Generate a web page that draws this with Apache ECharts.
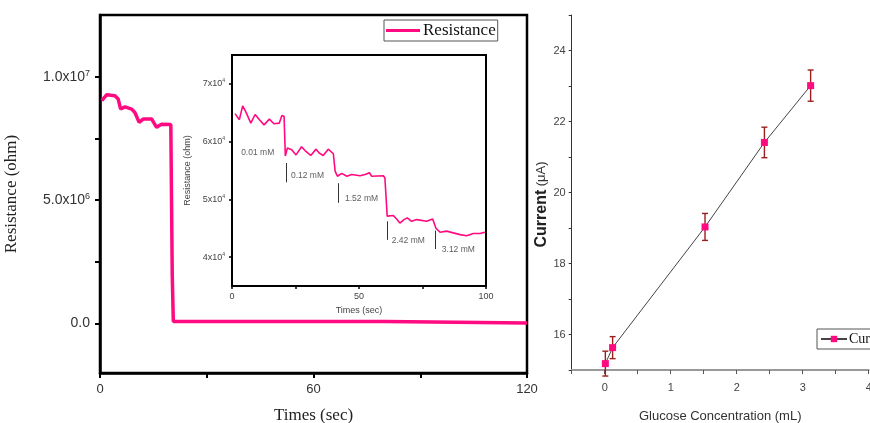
<!DOCTYPE html>
<html><head><meta charset="utf-8">
<script src="https://cdn.jsdelivr.net/npm/echarts@6/dist/echarts.min.js"></script>
<style>html,body{margin:0;padding:0;background:#fff}#c{width:870px;height:423px}</style>
</head><body><div id="c"></div>
<script>
// ---- Main chart (resistance vs time) ----
const mainTime = [0.5, 1.9, 4.2, 5.1, 5.8, 7.0, 8.9, 9.8, 11.0, 12.2, 14.5, 15.9, 17.3, 19.9, 20.2, 20.3, 20.6, 80.0, 80.2, 120];
const mainRes  = [9.03e6, 9.27e6, 9.23e6, 9.1e6, 8.69e6, 8.78e6, 8.69e6, 8.55e6, 8.15e6, 8.29e6, 8.29e6, 7.95e6, 8.08e6, 8.06e6, 8.06e6, 2.0e6, 9e4, 9e4, 3e4, 3e4];
const mainYTicks = [0, 5e6, 1e7];
const mainYTickLabels = [['0.0', ''], ['5.0x10', '6'], ['1.0x10', '7']];

// ---- Inset (zoom of resistance) ----
const insetTime = [1.2, 2.9, 4.2, 5.5, 7.4, 9.1, 10.8, 12.6, 14.7, 16.5, 18.6, 19.6, 20.5, 21.0, 21.8, 23.5, 25.2, 27.4, 29.1, 31.0, 33.1, 34.4, 35.9, 37.9, 39.9, 40.6, 41.5, 43.2, 45.2, 47.1, 50.4, 52.4, 54.1, 55.0, 59.6, 60.2, 61.1, 63.5, 64.8, 66.1, 67.7, 69.0, 70.7, 72.7, 76.6, 79.0, 80.3, 81.9, 84.5, 87.1, 89.8, 92.4, 95.0, 97.6, 99.6];
const insetRes  = [64850, 63800, 66200, 65100, 63200, 64700, 63800, 62900, 63900, 63100, 63200, 64500, 64400, 57500, 58900, 58600, 57700, 59100, 58300, 57600, 58700, 58000, 57600, 58700, 57900, 54900, 54000, 54500, 54000, 54300, 54100, 54300, 54600, 54000, 54100, 53700, 47100, 47200, 46600, 45900, 46500, 46800, 46200, 46500, 46200, 46600, 45000, 44300, 44500, 44200, 43900, 43700, 44100, 44100, 44300];
const insetYTicks = [40000, 50000, 60000, 70000];
const insetYTickLabels = [['4x10', '4'], ['5x10', '4'], ['6x10', '4'], ['7x10', '4']];
const injLabels = ['0.01 mM', '0.12 mM', '1.52 mM', '2.42 mM', '3.12 mM'];
const injLabelT = [3.6, 23.2, 44.5, 62.9, 82.6];
const injLabelR = [58100, 54100, 50100, 42900, 41300];
const injTickT = [21.3, 41.9, 61.1, 80.2];
const injTickTop = [56300, 52800, 46200, 44600];
const injTickBottom = [52950, 49400, 43000, 41400];

// ---- Right chart (current vs glucose concentration) ----
const glucoseConc = [0.01, 0.12, 1.52, 2.42, 3.12];
const currentVals = [15.18, 15.63, 19.03, 21.41, 23.01];
const currentErr  = [0.35, 0.31, 0.38, 0.43, 0.44];

const SANS = "'Liberation Sans', Arial, sans-serif";
const NARROW = "'Liberation Sans Narrow', 'Liberation Sans', Arial, sans-serif";
const SERIF = "'Liberation Serif', 'Times New Roman', serif";
const PINK = '#ff0a80';

function supLabel(ticks, labels, big, small, color) {
  return {
    customValues: ticks,
    color: color,
    fontFamily: SANS,
    formatter: function (v) {
      const i = ticks.findIndex(t => Math.abs(t - v) < 1e-6 * Math.max(1, Math.abs(t)));
      if (i < 0) return '';
      const l = labels[i];
      return l[1] ? '{a|' + l[0] + '}{s|' + l[1] + '}' : '{a|' + l[0] + '}';
    },
    rich: {
      a: { fontSize: big, fontFamily: SANS, color: color, lineHeight: big + 2 },
      s: { fontSize: small, fontFamily: SANS, color: color, lineHeight: small + 1, verticalAlign: 'top' }
    }
  };
}

const chart = echarts.init(document.getElementById('c'), null, { renderer: 'canvas' });
chart.setOption({
  animation: false,
  backgroundColor: '#fff',
  grid: [
    { left: 100, top: 15, width: 427, height: 358, show: true, borderColor: '#000', borderWidth: 2.5, backgroundColor: 'transparent', containLabel: false, outerBoundsMode: 'none' },
    { left: 232, top: 55, width: 254, height: 231, show: true, borderColor: '#000', borderWidth: 2, backgroundColor: '#fff', containLabel: false, outerBoundsMode: 'none', z: 5 },
    { left: 571.7, top: 15, width: 297, height: 355, show: false, containLabel: false, outerBoundsMode: 'none' }
  ],
  legend: [
    {
      left: 384, top: 20, data: ['Resistance'], icon: 'rect', itemWidth: 34, itemHeight: 3, itemGap: 0,
      padding: [2, 2, 2, 2], borderColor: '#555', borderWidth: 1, backgroundColor: '#fff',
      textStyle: { fontFamily: SERIF, fontSize: 17, color: '#111', padding: [0, 0, 0, -2] }
    },
    {
      left: 817, top: 329, data: ['Current'], itemWidth: 26, itemHeight: 8, itemGap: 0,
      padding: [3, 4, 3, 3], borderColor: '#555', borderWidth: 1, backgroundColor: '#fff',
      textStyle: { fontFamily: SERIF, fontSize: 14, color: '#111', padding: [0, 0, 0, -3] }
    }
  ],
  xAxis: [
    {
      gridIndex: 0, type: 'value', min: 0, max: 120, interval: 30,
      name: 'Times (sec)', nameLocation: 'middle', nameGap: 34,
      nameTextStyle: { fontFamily: SERIF, fontSize: 17, color: '#222' },
      axisLine: { show: true, onZero: false, lineStyle: { color: '#000', width: 2.5 } },
      axisTick: { show: true, length: 5, lineStyle: { color: '#000', width: 2 } },
      axisLabel: { fontFamily: SANS, fontSize: 13, color: '#333', margin: 10, formatter: v => (v % 60 === 0 ? String(v) : '') },
      splitLine: { show: false }
    },
    {
      gridIndex: 1, type: 'value', min: 0, max: 100, interval: 25,
      name: 'Times (sec)', nameLocation: 'middle', nameGap: 19,
      nameTextStyle: { fontFamily: SANS, fontSize: 9, color: '#444' },
      axisLine: { show: true, onZero: false, lineStyle: { color: '#000', width: 2 } },
      axisTick: { show: true, length: 3, lineStyle: { color: '#000', width: 1.5 } },
      axisLabel: { fontFamily: SANS, fontSize: 9, color: '#444', margin: 6, formatter: v => (v % 50 === 0 ? String(v) : '') },
      splitLine: { show: false }
    },
    {
      gridIndex: 2, type: 'value', min: -0.5, max: 4, interval: 0.5,
      name: 'Glucose Concentration (mL)', nameLocation: 'middle', nameGap: 40,
      nameTextStyle: { fontFamily: NARROW, fontSize: 13, color: '#333' },
      axisLine: { show: true, onZero: false, lineStyle: { color: '#999', width: 2 } },
      axisTick: { show: true, length: 4, lineStyle: { color: '#555', width: 1 } },
      axisLabel: { fontFamily: NARROW, fontSize: 11, color: '#444', margin: 12, formatter: v => (Math.abs(v - Math.round(v)) < 1e-9 ? String(Math.round(v)) : '') },
      splitLine: { show: false }
    }
  ],
  yAxis: [
    {
      gridIndex: 0, type: 'value', min: -2e6, max: 1.25e7,
      name: 'Resistance (ohm)', nameLocation: 'middle', nameGap: 80, nameRotate: 90,
      nameTextStyle: { fontFamily: SERIF, fontSize: 17, color: '#222' },
      axisLine: { show: true, onZero: false, lineStyle: { color: '#000', width: 2.5 } },
      axisTick: { show: true, length: 5, customValues: [0, 2.5e6, 5e6, 7.5e6, 1e7], lineStyle: { color: '#000', width: 2 } },
      axisLabel: Object.assign(supLabel(mainYTicks, mainYTickLabels, 14, 9, '#333'), { margin: 10 }),
      splitLine: { show: false }
    },
    {
      gridIndex: 1, type: 'value', min: 35000, max: 75000,
      name: 'Resistance (ohm)', nameLocation: 'middle', nameGap: 40, nameRotate: 90,
      nameTextStyle: { fontFamily: SANS, fontSize: 9, color: '#444' },
      axisLine: { show: true, onZero: false, lineStyle: { color: '#000', width: 2 } },
      axisTick: { show: true, length: 3, customValues: insetYTicks, lineStyle: { color: '#000', width: 1.5 } },
      axisLabel: Object.assign(supLabel(insetYTicks, insetYTickLabels, 9, 5, '#444'), { margin: 7 }),
      splitLine: { show: false }
    },
    {
      gridIndex: 2, type: 'value', min: 15, max: 25, interval: 1,
      name: '{b|Current} {n|(\u03bcA)}', nameLocation: 'middle', nameGap: 22, nameRotate: 90,
      nameTextStyle: { padding: [0, 0, 0, -24], rich: { b: { fontFamily: SANS, fontWeight: 'bold', fontSize: 16, color: '#222' }, n: { fontFamily: SANS, fontSize: 13, color: '#333' } } },
      axisLine: { show: true, onZero: false, lineStyle: { color: '#333', width: 1 } },
      axisTick: { show: true, length: 3, lineStyle: { color: '#333', width: 1 } },
      axisLabel: { fontFamily: NARROW, fontSize: 11, color: '#444', margin: 6, formatter: v => (Math.round(v) % 2 === 0 ? String(Math.round(v)) : '') },
      splitLine: { show: false }
    }
  ],
  series: [
    {
      name: 'Resistance', type: 'line', xAxisIndex: 0, yAxisIndex: 0,
      data: mainTime.map((t, i) => [t, mainRes[i]]),
      symbol: 'none', color: PINK, lineStyle: { color: PINK, width: 3.5 }, z: 3
    },
    {
      name: 'inset', type: 'line', xAxisIndex: 1, yAxisIndex: 1,
      data: insetTime.map((t, i) => [t, insetRes[i]]),
      symbol: 'none', color: PINK, lineStyle: { color: PINK, width: 1.6 }, z: 10,
      markLine: {
        silent: true, symbol: 'none', animation: false,
        lineStyle: { color: '#333', width: 1, type: 'solid' }, label: { show: false },
        data: injTickT.map((t, i) => [{ coord: [t, injTickTop[i]] }, { coord: [t, injTickBottom[i]] }])
      }
    },
    {
      name: 'injections', type: 'scatter', xAxisIndex: 1, yAxisIndex: 1, z: 11,
      data: injLabels.map((l, i) => ({ value: [injLabelT[i], injLabelR[i]], name: l })),
      symbolSize: 0, silent: true,
      label: { show: true, position: 'right', distance: 0, formatter: p => p.name, fontFamily: SANS, fontSize: 8.5, color: '#333' }
    },
    {
      name: 'errbars', type: 'custom', xAxisIndex: 2, yAxisIndex: 2, z: 2,
      data: glucoseConc.map((x, i) => [x, currentVals[i], currentErr[i]]),
      renderItem: function (params, api) {
        const x = api.value(0), y = api.value(1), e = api.value(2);
        const top = api.coord([x, y + e]);
        const bot = api.coord([x, y - e]);
        const hw = 3;
        const st = { stroke: '#9a1f1f', lineWidth: 1.4 };
        return {
          type: 'group', children: [
            { type: 'line', shape: { x1: top[0], y1: top[1], x2: bot[0], y2: bot[1] }, style: st },
            { type: 'line', shape: { x1: top[0] - hw, y1: top[1], x2: top[0] + hw, y2: top[1] }, style: st },
            { type: 'line', shape: { x1: bot[0] - hw, y1: bot[1], x2: bot[0] + hw, y2: bot[1] }, style: st }
          ]
        };
      },
      encode: { x: 0, y: 1 }
    },
    {
      name: 'Current', type: 'line', xAxisIndex: 2, yAxisIndex: 2, z: 3,
      data: glucoseConc.map((x, i) => [x, currentVals[i]]),
      symbol: 'rect', symbolSize: 7, showAllSymbol: true,
      lineStyle: { color: '#444', width: 1 },
      itemStyle: { color: PINK }
    }
  ]
});
</script>
</body></html>
